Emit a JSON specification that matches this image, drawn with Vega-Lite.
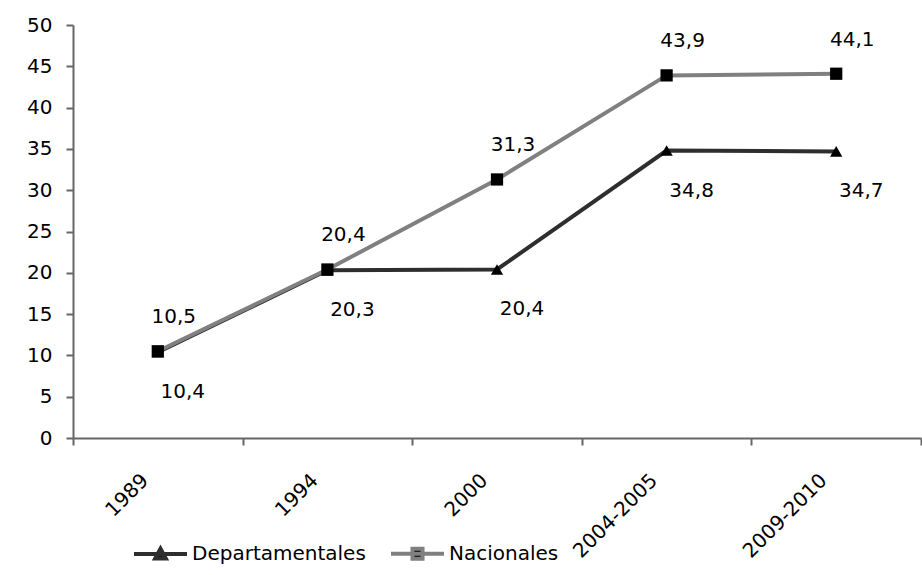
{
  "$schema": "https://vega.github.io/schema/vega-lite/v6.json",
  "width": 848,
  "height": 413,
  "autosize": {"type": "none"},
  "padding": {"left": 73, "top": 25, "right": 1, "bottom": 137},
  "background": "white",
  "config": {
    "locale": {"number": {"decimal": ",", "thousands": ".", "grouping": [3], "currency": ["", " €"]}},
    "view": {"stroke": null},
    "font": "DejaVu Sans"
  },
  "data": {
    "values": [
      {"periodo": "1989", "serie": "Departamentales", "valor": 10.4},
      {"periodo": "1994", "serie": "Departamentales", "valor": 20.3},
      {"periodo": "2000", "serie": "Departamentales", "valor": 20.4},
      {"periodo": "2004-2005", "serie": "Departamentales", "valor": 34.8},
      {"periodo": "2009-2010", "serie": "Departamentales", "valor": 34.7},
      {"periodo": "1989", "serie": "Nacionales", "valor": 10.5},
      {"periodo": "1994", "serie": "Nacionales", "valor": 20.4},
      {"periodo": "2000", "serie": "Nacionales", "valor": 31.3},
      {"periodo": "2004-2005", "serie": "Nacionales", "valor": 43.9},
      {"periodo": "2009-2010", "serie": "Nacionales", "valor": 44.1}
    ]
  },
  "encoding": {
    "x": {
      "field": "periodo",
      "type": "ordinal",
      "sort": null,
      "scale": {"type": "band", "paddingInner": 0, "paddingOuter": 0},
      "axis": {
        "title": null,
        "labelAngle": -45,
        "labelFontSize": 20,
        "labelColor": "black",
        "domainColor": "#666666",
        "domainWidth": 2,
        "tickColor": "#666666",
        "tickWidth": 2,
        "tickSize": 7,
        "tickBand": "extent",
        "labelPadding": 25,
        "labelOffset": -20,
        "grid": false
      }
    },
    "y": {
      "field": "valor",
      "type": "quantitative",
      "scale": {"domain": [0, 50], "nice": false},
      "axis": {
        "title": null,
        "values": [0, 5, 10, 15, 20, 25, 30, 35, 40, 45, 50],
        "labelFontSize": 20,
        "labelColor": "black",
        "labelPadding": 14,
        "domainColor": "#666666",
        "domainWidth": 2,
        "tickColor": "#666666",
        "tickWidth": 2,
        "tickSize": 7,
        "grid": false
      }
    }
  },
  "layer": [
    {
      "mark": {"type": "line", "strokeWidth": 4},
      "encoding": {
        "color": {
          "field": "serie",
          "type": "nominal",
          "scale": {"domain": ["Departamentales", "Nacionales"], "range": ["#2e2e2e", "#808080"]},
          "legend": {
            "orient": "none",
            "legendX": 59,
            "legendY": 500,
            "direction": "horizontal",
            "title": null,
            "symbolSize": 2809,
            "symbolStrokeWidth": 4,
            "labelFontSize": 20,
            "labelColor": "black",
            "labelOffset": 3,
            "labelLimit": 400,
            "columnPadding": 17,
            "encode": {
              "symbols": {
                "update": {
                  "shape": {"signal": "datum.value === 'Departamentales' ? 'M-1,0L1,0M-0.2,0.17L0,-0.2L0.2,0.17Z' : 'M-1,0L1,0M-0.19,-0.19L0.19,-0.19L0.19,0.19L-0.19,0.19Z'"},
                  "fill": {"value": "black"}
                }
              }
            }
          }
        }
      }
    },
    {
      "transform": [{"filter": "datum.serie === 'Departamentales'"}],
      "mark": {"type": "point", "filled": true, "opacity": 1, "color": "black", "size": 150, "shape": "triangle-up"}
    },
    {
      "transform": [{"filter": "datum.serie === 'Nacionales'"}],
      "mark": {"type": "point", "filled": true, "opacity": 1, "color": "black", "size": 150, "shape": "square"}
    },
    {
      "transform": [{"filter": "datum.serie === 'Nacionales'"}],
      "mark": {"type": "text", "fontSize": 20, "color": "black", "dx": 16, "dy": -34},
      "encoding": {"text": {"field": "valor", "type": "quantitative", "format": ".1f"}}
    },
    {
      "transform": [{"filter": "datum.serie === 'Departamentales'"}],
      "mark": {"type": "text", "fontSize": 20, "color": "black", "dx": 25, "dy": 40},
      "encoding": {"text": {"field": "valor", "type": "quantitative", "format": ".1f"}}
    }
  ]
}
